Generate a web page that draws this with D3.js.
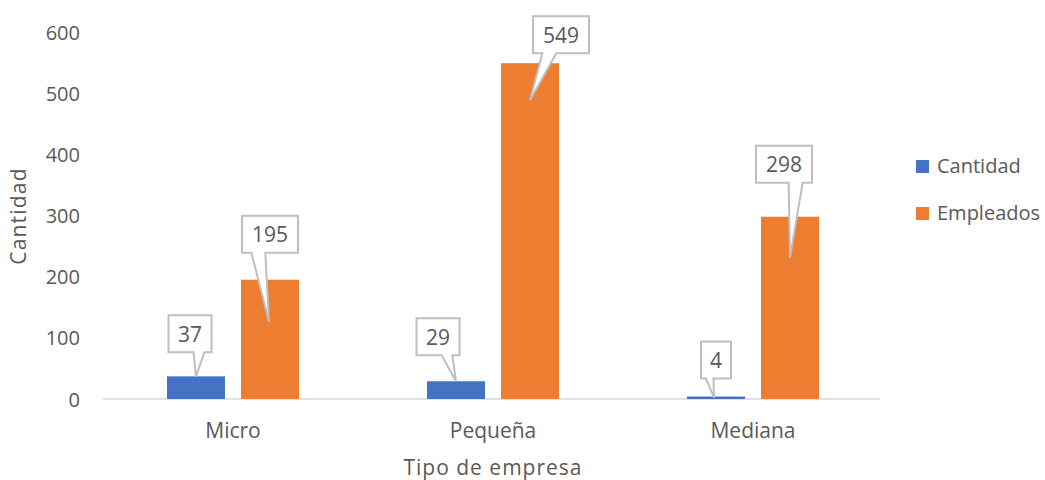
<!DOCTYPE html>
<html>
<head>
<meta charset="utf-8">
<script src="https://cdn.jsdelivr.net/npm/d3@7"></script>
<style>
  html, body { margin: 0; padding: 0; background: #fff; }
  svg { display: block; font-family: "Open Sans", "Noto Sans", sans-serif; }
</style>
</head>
<body>
<svg id="chart" width="1045" height="480"></svg>
<script>
// Company types and the two series shown for each
const categories = ["Micro", "Pequeña", "Mediana"];
const seriesNames = ["Cantidad", "Empleados"];
const cantidad = [37, 29, 4];
const empleados = [195, 549, 298];
const yTicks = [0, 100, 200, 300, 400, 500, 600];

// Callout placement for each label: box centre offset from the bar centre,
// gap between box bottom and bar top, and where the pointer ends
const calloutLayout = [
  [{ bx: -6, gap: 24, tx: 0, ty: 0 }, { bx: 0, gap: 27, tx: -1, ty: 42 }],
  [{ bx: -18, gap: 26, tx: 0, ty: 0 }, { bx: 31, gap: 10, tx: 0, ty: 37 }],
  [{ bx: 0, gap: 18, tx: -2, ty: 1 }, { bx: -6, gap: 34, tx: 0, ty: 41 }]
];

const colors = { Cantidad: "#4472C4", Empleados: "#ED7D31" };
const textColor = "#595959";

const svg = d3.select("#chart");
const margin = { left: 103, right: 162, top: 32, bottom: 81 };
const W = 1045, H = 480;

const x0 = d3.scaleBand().domain(categories).range([margin.left, W - margin.right]);
const x1 = d3.scaleBand().domain(seriesNames)
  .range([x0.bandwidth() / 2 - 66, x0.bandwidth() / 2 + 66])
  .paddingInner(16 / 74);
const y = d3.scaleLinear().domain([0, 600]).range([H - margin.bottom, margin.top]);

// Y axis labels (no axis line, no gridlines)
const yAxis = d3.axisLeft(y).tickValues(yTicks).tickSize(0).tickPadding(0);
const gy = svg.append("g").attr("transform", `translate(80,0)`).call(yAxis);
gy.select(".domain").remove();
gy.selectAll("text").attr("fill", textColor).style("font-size", "20px")
  .style("font-family", "'Open Sans', sans-serif").attr("dy", "0.35em");

// X axis: thin baseline and category labels
const xAxis = d3.axisBottom(x0).tickSize(0).tickPadding(0);
const gx = svg.append("g").attr("transform", `translate(0,${y(0)})`).call(xAxis);
gx.select(".domain").attr("stroke", "#d9d9d9").attr("stroke-width", 1.5)
  .attr("d", `M${margin.left},0H${W - margin.right - 3}`);
gx.selectAll("text").attr("fill", textColor).style("font-size", "21px")
  .style("font-family", "'Open Sans', sans-serif")
  .attr("y", 39).attr("dy", null);

// Axis titles
svg.append("text")
  .attr("x", (margin.left + W - margin.right) / 2).attr("y", 475)
  .attr("text-anchor", "middle").attr("fill", textColor)
  .style("font-size", "21px").style("letter-spacing", "1px").text("Tipo de empresa");
svg.append("text")
  .attr("transform", `translate(26,216) rotate(-90)`)
  .attr("text-anchor", "middle").attr("fill", textColor)
  .style("font-size", "21px").style("letter-spacing", "1.2px").text("Cantidad");

// Bars
const rows = categories.map((c, i) => ({
  cat: c, i,
  vals: [
    { s: "Cantidad", v: cantidad[i], j: 0 },
    { s: "Empleados", v: empleados[i], j: 1 }
  ]
}));

const groups = svg.append("g").selectAll("g").data(rows).join("g")
  .attr("transform", d => `translate(${x0(d.cat)},0)`);

groups.selectAll("rect").data(d => d.vals).join("rect")
  .attr("x", d => x1(d.s))
  .attr("width", x1.bandwidth())
  .attr("y", d => y(d.v))
  .attr("height", d => y(0) - y(d.v))
  .attr("fill", d => colors[d.s]);

// Value callouts: rectangle with a wedge pointer down to the bar
const calloutFont = 21;
const callouts = svg.append("g");
rows.forEach(r => {
  r.vals.forEach(d => {
    const lay = calloutLayout[r.i][d.j];
    const cx = x0(r.cat) + x1(d.s) + x1.bandwidth() / 2;
    const top = y(d.v);
    const label = String(d.v);
    const w = 17 + label.length * 13;
    const h = 37;
    const l = cx + lay.bx - w / 2;
    const b = top - lay.gap;
    const t = b - h;
    const tipX = cx + lay.tx, tipY = top + lay.ty;
    const boxC = l + w / 2;
    const f1 = tipX > boxC ? 7 / 12 : 2 / 12;
    const f2 = tipX > boxC ? 10 / 12 : 5 / 12;
    const path = `M${l},${t}H${l + w}V${b}H${l + w * f2}L${tipX},${tipY}L${l + w * f1},${b}H${l}Z`;
    callouts.append("path").attr("d", path)
      .attr("fill", "#fff").attr("stroke", "#bfbfbf").attr("stroke-width", 2)
      .attr("stroke-linejoin", "miter");
    callouts.append("text")
      .attr("x", boxC).attr("y", t + h / 2 + 8)
      .attr("text-anchor", "middle").attr("fill", textColor)
      .style("font-size", calloutFont + "px").text(label);
  });
});

// Legend
const legend = svg.append("g");
seriesNames.forEach((s, i) => {
  const base = 173 + i * 47;
  legend.append("rect").attr("x", 916).attr("y", base - 13).attr("width", 13).attr("height", 13)
    .attr("fill", colors[s]);
  legend.append("text").attr("x", 937).attr("y", base)
    .attr("fill", textColor).style("font-size", "20px").text(s);
});
</script>
</body>
</html>
